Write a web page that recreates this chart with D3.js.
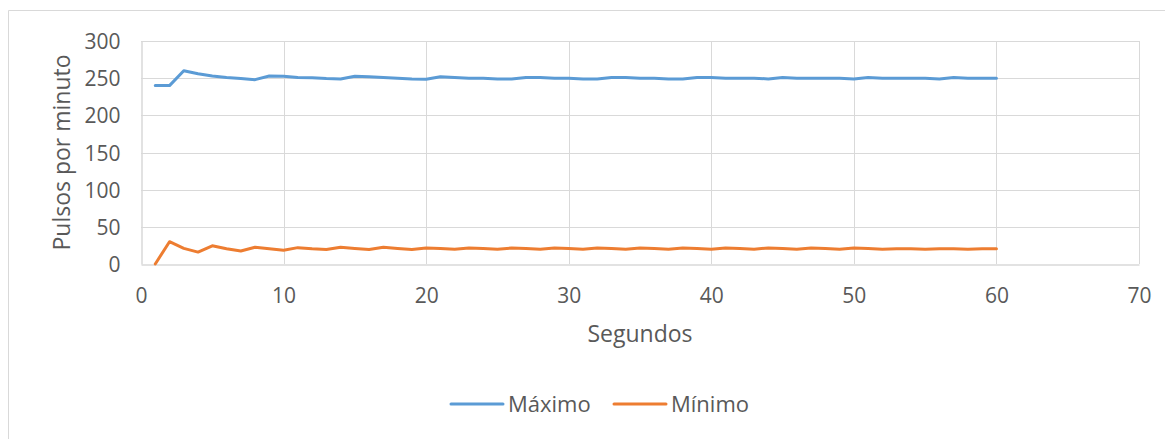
<!DOCTYPE html>
<html>
<head>
<meta charset="utf-8">
<script src="https://cdn.jsdelivr.net/npm/d3@7"></script>
<style>
  html, body { margin: 0; padding: 0; background: #fff; }
  svg { display: block; }
  text { font-family: "Open Sans", sans-serif; fill: #595959; }
</style>
</head>
<body>
<svg id="chart" width="1165" height="439"></svg>
<script>
// Seconds 1..60
const segundos = d3.range(1, 61);

// Maximum pulse per second
const maximo = [
  240, 240, 260, 256, 253, 251, 249.5, 248, 253, 252.5,
  251, 250.5, 249.5, 249, 252.5, 252, 251, 250, 249, 248.5,
  252, 251, 250, 250, 249, 249, 251, 251, 250, 250,
  249, 249, 251, 251, 250, 250, 249, 249, 251, 251,
  250, 250, 250, 249, 251, 250, 250, 250, 250, 249,
  251, 250, 250, 250, 250, 249, 251, 250, 250, 250
];

// Minimum pulse per second
const minimo = [
  0, 30, 21, 16, 24.5, 20.5, 17.5, 22.5, 20.5, 18.5,
  22, 20.5, 19.5, 22.5, 21, 19.5, 22.5, 21, 19.5, 21.5,
  21, 20, 21.5, 21, 20, 21.5, 21, 20, 21.5, 21,
  20, 21.5, 21, 20, 21.5, 21, 20, 21.5, 21, 20,
  21.5, 21, 20, 21.5, 21, 20, 21.5, 21, 20, 21.5,
  21, 20, 20.5, 20.5, 20, 20.5, 20.5, 20, 20.5, 20.5
];

const xTicks = [0, 10, 20, 30, 40, 50, 60, 70];
const yTicks = [0, 50, 100, 150, 200, 250, 300];

const seriesNames = ["Máximo", "Mínimo"];
const seriesColors = ["#5b9bd5", "#ed7d31"];

const svg = d3.select("#chart");

// Outer chart frame (left and top edges)
svg.append("line").attr("x1", 8.5).attr("x2", 1165).attr("y1", 10.5).attr("y2", 10.5)
  .attr("stroke", "#d9d9d9").attr("stroke-width", 1);
svg.append("line").attr("x1", 8.5).attr("x2", 8.5).attr("y1", 10.5).attr("y2", 439)
  .attr("stroke", "#d9d9d9").attr("stroke-width", 1);

const plot = { left: 141, right: 1139, top: 41, bottom: 264 };

const x = d3.scaleLinear().domain([0, 70]).range([plot.left, plot.right]);
const y = d3.scaleLinear().domain([0, 300]).range([plot.bottom, plot.top]);

// Horizontal gridlines
svg.append("g").selectAll("line").data(yTicks.filter(d => d > 0)).join("line")
  .attr("x1", plot.left).attr("x2", plot.right)
  .attr("y1", d => Math.round(y(d)) + 0.5).attr("y2", d => Math.round(y(d)) + 0.5)
  .attr("stroke", "#d9d9d9").attr("stroke-width", 1);

// Vertical gridlines
svg.append("g").selectAll("line").data(xTicks.filter(d => d > 0)).join("line")
  .attr("x1", d => Math.round(x(d)) + 0.5).attr("x2", d => Math.round(x(d)) + 0.5)
  .attr("y1", plot.top).attr("y2", plot.bottom)
  .attr("stroke", "#d9d9d9").attr("stroke-width", 1);

// Axes
const xAxis = d3.axisBottom(x).tickValues(xTicks).tickSize(0).tickPadding(0);
const yAxis = d3.axisLeft(y).tickValues(yTicks).tickSize(0).tickPadding(0);

const gx = svg.append("g").attr("transform", `translate(0,${plot.bottom + 0.5})`).call(xAxis);
gx.select(".domain").attr("stroke", "#d9d9d9").attr("stroke-width", 1.5);
gx.selectAll("text").attr("font-size", 21).attr("fill", "#595959")
  .attr("font-family", "Open Sans, sans-serif").attr("dy", null).attr("y", 38);

const gy = svg.append("g").attr("transform", `translate(${plot.left + 0.5},0)`).call(yAxis);
gy.select(".domain").attr("stroke", "#d9d9d9").attr("stroke-width", 1.5);
gy.selectAll("text").attr("font-size", 21).attr("fill", "#595959")
  .attr("font-family", "Open Sans, sans-serif").attr("dy", "0.36em").attr("x", -21);

// Axis titles
svg.append("text").attr("x", (plot.left + plot.right) / 2).attr("y", 342)
  .attr("text-anchor", "middle").attr("font-size", 23).text("Segundos");
svg.append("text")
  .attr("transform", `translate(70,${(plot.top + plot.bottom) / 2}) rotate(-90)`)
  .attr("text-anchor", "middle").attr("font-size", 23).text("Pulsos por minuto");

// Series lines
const line = d3.line().x((d, i) => x(segundos[i])).y(d => y(d));
[maximo, minimo].forEach((vals, k) => {
  svg.append("path").datum(vals)
    .attr("d", line)
    .attr("fill", "none")
    .attr("stroke", seriesColors[k])
    .attr("stroke-width", 3)
    .attr("stroke-linejoin", "round")
    .attr("stroke-linecap", "round");
});

// Legend
const legendX = [450, 613];
const legend = svg.append("g");
seriesNames.forEach((name, k) => {
  legend.append("line")
    .attr("x1", legendX[k] + 1).attr("x2", legendX[k] + 53)
    .attr("y1", 404).attr("y2", 404)
    .attr("stroke", seriesColors[k]).attr("stroke-width", 3)
    .attr("stroke-linecap", "round");
  legend.append("text")
    .attr("x", legendX[k] + 58).attr("y", 412)
    .attr("font-size", 22).text(name);
});
</script>
</body>
</html>
